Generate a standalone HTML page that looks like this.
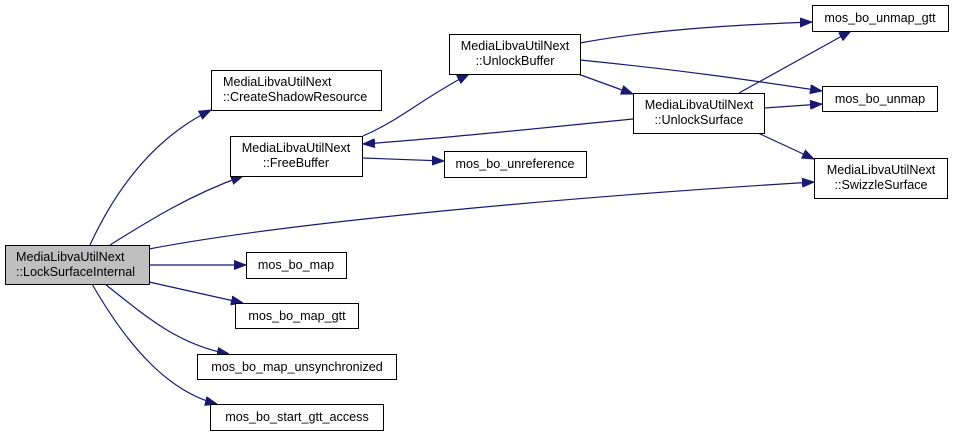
<!DOCTYPE html>
<html><head><meta charset="utf-8"><style>
html,body{margin:0;padding:0;background:#fff;width:956px;height:436px;overflow:hidden}
svg{display:block}
text{font-family:"Liberation Sans",Arial,sans-serif;font-size:12.6px;fill:#000}
</style></head><body>
<svg width="956" height="436" viewBox="0 0 956 436" xmlns="http://www.w3.org/2000/svg">
<defs>
<marker id="a" markerWidth="12" markerHeight="10" refX="12" refY="5" orient="auto" markerUnits="userSpaceOnUse">
<path d="M0,0.5 L12,5 L0,9.5 Z" fill="#191970" stroke="#191970"/>
</marker>
</defs>
<g fill="none" stroke="#191970" stroke-width="1.2" marker-end="url(#a)">
<path d="M90,245 C120,180 160,135 211,110"/>
<path d="M110,245 C150,220 190,195 243,176"/>
<path d="M149,249 C300,220 600,195 814,182"/>
<path d="M149,265 L246,265"/>
<path d="M149,282 L243,303"/>
<path d="M105,284 C150,320 180,345 229,354"/>
<path d="M92,284 C130,350 170,392 217,404"/>
<path d="M363,136 C400,120 420,100 469,74"/>
<path d="M363,158 L444,161"/>
<path d="M580,43 C650,30 730,25 812,22"/>
<path d="M580,60 C680,70 750,80 822,91"/>
<path d="M578,74 L633,94"/>
<path d="M633,119 C540,128 450,138 363,144"/>
<path d="M739,93 L851,31"/>
<path d="M764,108 L822,104"/>
<path d="M758,133 L814,159"/>
</g>
<g stroke="#000" stroke-width="1" fill="#fff">
<rect x="5.5" y="245.5" width="144" height="39" fill="#bfbfbf"/>
<rect x="211.5" y="70.5" width="170" height="40"/>
<rect x="230.5" y="136.5" width="132" height="40"/>
<rect x="246.5" y="252.5" width="100" height="26"/>
<rect x="235.5" y="303.5" width="123" height="25"/>
<rect x="197.5" y="354.5" width="199" height="25"/>
<rect x="210.5" y="404.5" width="173" height="26"/>
<rect x="449.5" y="34.5" width="131" height="40"/>
<rect x="444.5" y="151.5" width="142" height="26"/>
<rect x="633.5" y="93.5" width="131" height="40"/>
<rect x="812.5" y="5.5" width="136" height="26"/>
<rect x="822.5" y="86.5" width="115" height="25"/>
<rect x="814.5" y="158.5" width="133" height="40"/>
</g>
<text x="16" y="261">MediaLibvaUtilNext</text>
<text x="16" y="276">::LockSurfaceInternal</text>
<text x="223" y="86">MediaLibvaUtilNext</text>
<text x="223" y="101">::CreateShadowResource</text>
<text x="296" y="152" text-anchor="middle">MediaLibvaUtilNext</text>
<text x="296" y="167" text-anchor="middle">::FreeBuffer</text>
<text x="296" y="269" text-anchor="middle">mos_bo_map</text>
<text x="297" y="320" text-anchor="middle">mos_bo_map_gtt</text>
<text x="297" y="371" text-anchor="middle">mos_bo_map_unsynchronized</text>
<text x="297" y="421" text-anchor="middle">mos_bo_start_gtt_access</text>
<text x="515" y="50" text-anchor="middle">MediaLibvaUtilNext</text>
<text x="515" y="65" text-anchor="middle">::UnlockBuffer</text>
<text x="515" y="168" text-anchor="middle">mos_bo_unreference</text>
<text x="699" y="109" text-anchor="middle">MediaLibvaUtilNext</text>
<text x="699" y="124" text-anchor="middle">::UnlockSurface</text>
<text x="880" y="22" text-anchor="middle">mos_bo_unmap_gtt</text>
<text x="880" y="103" text-anchor="middle">mos_bo_unmap</text>
<text x="881" y="174" text-anchor="middle">MediaLibvaUtilNext</text>
<text x="881" y="189" text-anchor="middle">::SwizzleSurface</text>
</svg>
</body></html>
